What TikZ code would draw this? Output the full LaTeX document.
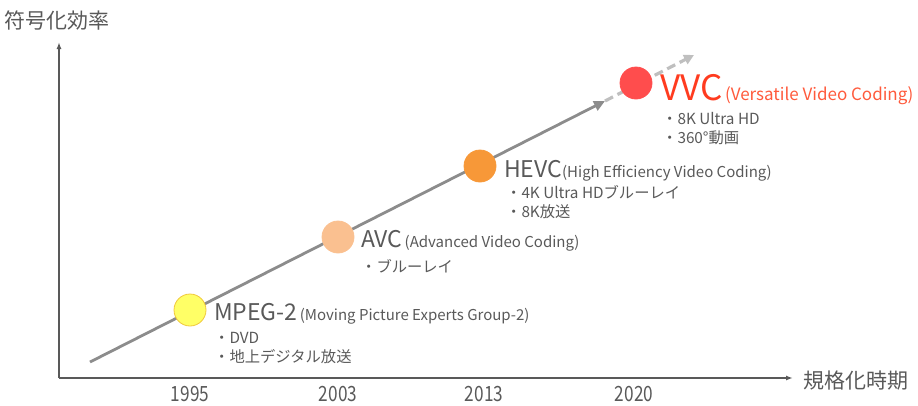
\documentclass[tikz,border=0pt]{standalone}
\usepackage{fontspec}
\setmainfont{Noto Sans CJK JP}
\usetikzlibrary{arrows.meta}
\definecolor{txt}{HTML}{595959}
\definecolor{axisc}{HTML}{595959}
\definecolor{trend}{HTML}{8C8C8C}
\definecolor{future}{HTML}{BFBFBF}
\definecolor{vvcred}{HTML}{FF3B1F}
\definecolor{vvclight}{HTML}{FF5A3C}
\newcommand{\fsz}[1]{\fontsize{#1}{#1}\selectfont}
\begin{document}
\begin{tikzpicture}[x=1pt,y=-1pt,
  axisline/.style={draw=axisc,line width=1.6pt,-{Latex[length=7pt,width=5pt]}},
  dot/.style={circle,minimum size=32pt,inner sep=0pt,line width=0.8pt},
  codec/.style={anchor=base west,inner sep=0pt,text=txt},
  bullets/.style={anchor=north west,inner sep=0pt,text=txt,align=left,font=\fontsize{15.3}{19}\selectfont},
  year/.style={inner sep=0pt,text=txt,font=\fsz{21},xscale=0.82}]
\useasboundingbox (0,0) rectangle (918,405);
% axes
\coordinate (o) at (59,378);
\coordinate (ytop) at (59,42);
\coordinate (xend) at (793,378);
\draw[axisline] (o) -- (ytop);
\draw[axisline] (o) -- (xend);
\node[anchor=west,inner sep=0pt,text=txt,font=\fsz{21}] (ylab) at (4,21) {符号化効率};
\node[anchor=west,inner sep=0pt,text=txt,font=\fsz{21}] (xlab) at (803,381) {規格化時期};
% years
\node[year] (y1) at (190,394) {1995};
\node[year] (y2) at (338,394) {2003};
\node[year] (y3) at (484,394) {2013};
\node[year] (y4) at (634,394) {2020};
% trend arrows
\coordinate (s) at (90,362);
\coordinate (e) at (605,101);
\coordinate (f) at (694,55);
\draw[future,line width=3.2pt,dash pattern=on 9pt off 5pt,-{Triangle[length=10pt,width=10pt]}] (e) -- (f);
\draw[trend,line width=2.8pt,-{Triangle[length=11pt,width=10pt]}] (s) -- (e);
% codec dots
\node[dot,fill={rgb,255:red,255;green,255;blue,102},draw={rgb,255:red,240;green,200;blue,60}] (m) at (190,310) {};
\node[dot,fill={rgb,255:red,250;green,192;blue,144},draw={rgb,255:red,250;green,192;blue,144}] (a) at (338,237) {};
\node[dot,fill={rgb,255:red,247;green,152;blue,56},draw={rgb,255:red,247;green,152;blue,56}] (h) at (480,166) {};
\node[dot,fill={rgb,255:red,255;green,77;blue,77},draw={rgb,255:red,255;green,77;blue,77}] (v) at (636,83) {};
% labels
\node[codec] (ml) at (214,320) {{\fsz{23}MPEG-2} {\fsz{15}(Moving Picture Experts Group-2)}};
\node[bullets] (mb) at (214,332) {・DVD\\・地上デジタル放送};
\node[codec] (al) at (361,247) {{\fsz{23}AVC} {\fsz{15}(Advanced Video Coding)}};
\node[bullets] (ab) at (361,259) {・ブルーレイ};
\node[codec] (hl) at (504,177) {{\fsz{23}HEVC}{\fsz{15}(High Efficiency Video Coding)}};
\node[bullets] (hb) at (506,185) {・4K Ultra HDブルーレイ\\・8K放送};
\node[codec,text=vvcred] (vl) at (660,100) {{\fsz{35}VVC} {\fsz{17}\color{vvclight}(Versatile Video Coding)}};
\node[bullets] (vb) at (662,112) {・8K Ultra HD\\・360°動画};
\end{tikzpicture}
\end{document}
